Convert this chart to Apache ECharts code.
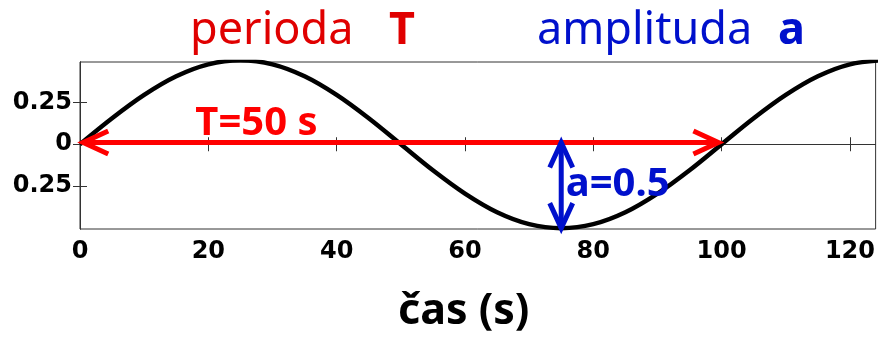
<!DOCTYPE html>
<html>
<head>
<meta charset="utf-8">
<script src="https://cdn.jsdelivr.net/npm/echarts@6/dist/echarts.min.js"></script>
<style>html,body{margin:0;padding:0;background:#fff}#c{width:878px;height:337px}</style>
</head>
<body>
<div id="c"></div>
<script>
// time (s) and displacement
var timeValues = [0,5,10,15,20,25,30,35,40,45,50,55,60,65,70,75,80,85,90,95,100,105,110,115,120,125];
var waveValues = [0,0.155,0.294,0.405,0.476,0.5,0.476,0.405,0.294,0.155,0,-0.155,-0.294,-0.405,-0.476,-0.5,-0.476,-0.405,-0.294,-0.155,0,0.155,0.294,0.405,0.476,0.5];
var xTicks = [0,20,40,60,80,100,120];
var yTicks = [-0.25,0,0.25];
var yTickLabels = ['0.25','0','0.25'];
// annotation arrows: [x1, y1, x2, y2]
var periodArrow = [0.5,0.01,99.5,0.01];
var amplitudeArrow = [75,0.01,75,-0.5];
var periodLabel = ['T=50 s', 27.5, 0.125];
var amplitudeLabel = ['a=0.5', 83.8, -0.24];

var RED = '#ff0000', BLUE = '#0010cc', TRED = '#e00000';

var chart = echarts.init(document.getElementById('c'));

function arrowItem(color) {
  return function (params, api) {
    var p1 = api.coord([api.value(0), api.value(1)]);
    var p2 = api.coord([api.value(2), api.value(3)]);
    var dx = p2[0]-p1[0], dy = p2[1]-p1[1];
    var L = Math.sqrt(dx*dx+dy*dy); var ux = dx/L, uy = dy/L;
    var px = -uy, py = ux;
    var a = 25, b = 11.5;
    function head(t, s) {
      return [[t[0]-s*ux*a+px*b, t[1]-s*uy*a+py*b], t, [t[0]-s*ux*a-px*b, t[1]-s*uy*a-py*b]];
    }
    var st = {stroke: color, lineWidth: 5, fill: null, lineJoin: 'miter', lineCap: 'butt'};
    return {type: 'group', children: [
      {type: 'line', shape: {x1: p1[0], y1: p1[1], x2: p2[0], y2: p2[1]}, style: st},
      {type: 'polyline', shape: {points: head(p1, -1)}, style: st},
      {type: 'polyline', shape: {points: head(p2, 1)}, style: st}
    ]};
  };
}

var tickFont = {fontFamily: 'DejaVu Sans', fontWeight: 'bold', fontSize: 24, color: '#000'};

chart.setOption({
  animation: false,
  grid: {left: 80, right: 1, top: 62, bottom: 108, show: true, borderColor: '#333', borderWidth: 1, backgroundColor: 'transparent'},
  xAxis: [{
    type: 'value', min: 0, max: 124, position: 'bottom',
    axisLine: {show: true, lineStyle: {color: '#333', width: 1}},
    axisTick: {show: true, inside: true, length: 7, lineStyle: {color: '#333'}, customValues: xTicks},
    axisLabel: Object.assign({margin: 11, customValues: xTicks}, tickFont),
    splitLine: {show: false}
  }, {
    type: 'value', min: 0, max: 124, position: 'top',
    axisLine: {show: true, lineStyle: {color: '#333', width: 1}},
    axisTick: {show: true, inside: true, length: 7, lineStyle: {color: '#333'}, customValues: xTicks},
    axisLabel: {show: false}, splitLine: {show: false}
  }],
  yAxis: [{
    type: 'value', min: -0.505, max: 0.49, position: 'left',
    axisLine: {show: true, lineStyle: {color: '#333', width: 1}},
    axisTick: {show: true, inside: true, length: 7, lineStyle: {color: '#333'}, customValues: yTicks},
    axisLabel: Object.assign({margin: 8, customValues: yTicks, formatter: function (v) {
      var i = yTicks.indexOf(v); return i >= 0 ? yTickLabels[i] : '';
    }}, tickFont),
    splitLine: {show: false}
  }, {
    type: 'value', min: -0.505, max: 0.49, position: 'right',
    axisLine: {show: true, lineStyle: {color: '#333', width: 1}},
    axisTick: {show: true, inside: true, length: 7, lineStyle: {color: '#333'}, customValues: yTicks},
    axisLabel: {show: false}, splitLine: {show: false}
  }],
  graphic: [
    {type: 'text', left: 190, top: 9, style: {text: 'perioda', fontFamily: 'Noto Sans', fontSize: 45, fill: TRED}},
    {type: 'text', left: 389, top: 9, style: {text: 'T', fontFamily: 'Noto Sans', fontWeight: 'bold', fontSize: 45, fill: TRED}},
    {type: 'text', left: 537, top: 9, style: {text: 'amplituda', fontFamily: 'Noto Sans', fontSize: 45, fill: BLUE}},
    {type: 'text', left: 778, top: 9, style: {text: 'a', fontFamily: 'Noto Sans', fontWeight: 'bold', fontSize: 45, fill: BLUE}},
    {type: 'text', left: 398, top: 290, style: {text: 'čas (s)', fontFamily: 'Noto Sans', fontWeight: 'bold', fontSize: 43, fill: '#000'}}
  ],
  series: [{
    type: 'line', xAxisIndex: 0, yAxisIndex: 0,
    data: timeValues.map(function (t, i) { return [t, waveValues[i]]; }),
    smooth: 0.35, showSymbol: false, clip: true,
    lineStyle: {color: '#000', width: 4.5}
  }, {
    type: 'custom', xAxisIndex: 0, yAxisIndex: 0, clip: false,
    renderItem: arrowItem(RED), data: [periodArrow], z: 5
  }, {
    type: 'custom', xAxisIndex: 0, yAxisIndex: 0, clip: false,
    renderItem: arrowItem(BLUE), data: [amplitudeArrow], z: 5
  }, {
    type: 'scatter', symbolSize: 0, z: 6, itemStyle: {opacity: 1},
    data: [[periodLabel[1], periodLabel[2]]],
    label: {show: true, position: 'inside', formatter: periodLabel[0], fontFamily: 'Noto Sans', fontWeight: 'bold', fontSize: 40, color: RED, opacity: 1}
  }, {
    type: 'scatter', symbolSize: 0, z: 6, itemStyle: {opacity: 1},
    data: [[amplitudeLabel[1], amplitudeLabel[2]]],
    label: {show: true, position: 'inside', formatter: amplitudeLabel[0], fontFamily: 'Noto Sans', fontWeight: 'bold', fontSize: 40, color: BLUE, opacity: 1}
  }]
});
</script>
</body>
</html>
